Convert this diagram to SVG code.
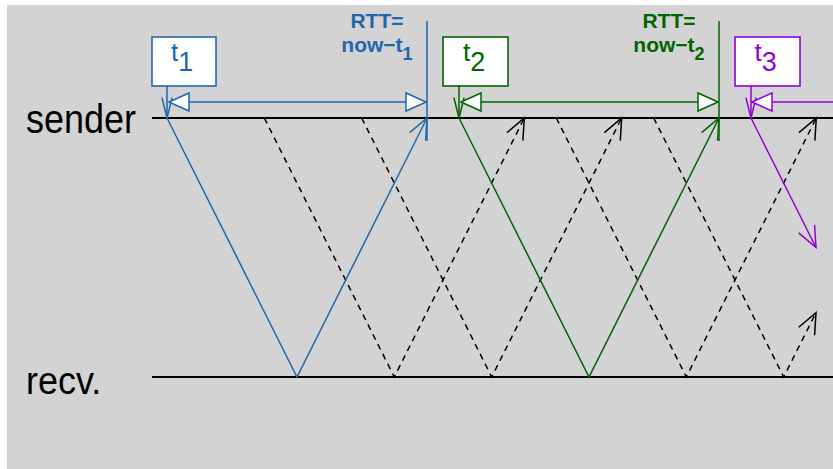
<svg xmlns="http://www.w3.org/2000/svg" width="833" height="469" viewBox="0 0 833 469">
<style>
  .ax { stroke: #000; stroke-width: 2; fill: none; }
  .lbl { font-family: "Liberation Sans", Arial, sans-serif; fill: #000; }
  .box { fill: #fff; stroke-width: 1.6; }
  .blue { stroke: #2166ac; }
  .green { stroke: #006400; }
  .purple { stroke: #9400d3; }
  .ln { fill: none; stroke-width: 1.5; }
  .dash { fill: none; stroke: #000; stroke-width: 1.5; stroke-dasharray: 6 5; }
  .tb { font-family: "Liberation Sans", Arial, sans-serif; font-size: 26px; }
  .rtt { font-family: "Liberation Sans", Arial, sans-serif; font-size: 21px; font-weight: bold; text-anchor: middle; }
</style>
<defs>
  <marker id="hB" markerUnits="userSpaceOnUse" viewBox="-25 -12 30 24" markerWidth="30" markerHeight="24" refX="0" refY="0" orient="auto" overflow="visible"><path d="M-20.9,-8.9 L0,0 L-20.9,8.9" fill="none" stroke="#2166ac" stroke-width="1.5"/></marker>
  <marker id="hG" markerUnits="userSpaceOnUse" viewBox="-25 -12 30 24" markerWidth="30" markerHeight="24" refX="0" refY="0" orient="auto" overflow="visible"><path d="M-20.9,-8.9 L0,0 L-20.9,8.9" fill="none" stroke="#006400" stroke-width="1.5"/></marker>
  <marker id="hP" markerUnits="userSpaceOnUse" viewBox="-25 -12 30 24" markerWidth="30" markerHeight="24" refX="0" refY="0" orient="auto" overflow="visible"><path d="M-20.9,-8.9 L0,0 L-20.9,8.9" fill="none" stroke="#9400d3" stroke-width="1.5"/></marker>
  <marker id="hK" markerUnits="userSpaceOnUse" viewBox="-25 -12 30 24" markerWidth="30" markerHeight="24" refX="0" refY="0" orient="auto" overflow="visible"><path d="M-20.9,-8.9 L0,0 L-20.9,8.9" fill="none" stroke="#000" stroke-width="1.5" stroke-dasharray="none"/></marker>
  <marker id="nB" markerUnits="userSpaceOnUse" viewBox="-25 -12 30 24" markerWidth="30" markerHeight="24" refX="0" refY="0" orient="auto" overflow="visible"><path d="M-20.4,-5.1 L0,0 L-20.4,5.1" fill="none" stroke="#2166ac" stroke-width="1.5"/></marker>
  <marker id="nG" markerUnits="userSpaceOnUse" viewBox="-25 -12 30 24" markerWidth="30" markerHeight="24" refX="0" refY="0" orient="auto" overflow="visible"><path d="M-20.4,-5.1 L0,0 L-20.4,5.1" fill="none" stroke="#006400" stroke-width="1.5"/></marker>
  <marker id="nP" markerUnits="userSpaceOnUse" viewBox="-25 -12 30 24" markerWidth="30" markerHeight="24" refX="0" refY="0" orient="auto" overflow="visible"><path d="M-20.4,-5.1 L0,0 L-20.4,5.1" fill="none" stroke="#9400d3" stroke-width="1.5"/></marker>
  <marker id="tB" markerUnits="userSpaceOnUse" viewBox="-25 -12 30 24" markerWidth="30" markerHeight="24" refX="0" refY="0" orient="auto-start-reverse" overflow="visible"><path d="M0,0 L-20,-9 L-20,9 Z" fill="#fff" stroke="#2166ac" stroke-width="1.5"/></marker>
  <marker id="tG" markerUnits="userSpaceOnUse" viewBox="-25 -12 30 24" markerWidth="30" markerHeight="24" refX="0" refY="0" orient="auto-start-reverse" overflow="visible"><path d="M0,0 L-20,-9 L-20,9 Z" fill="#fff" stroke="#006400" stroke-width="1.5"/></marker>
  <marker id="tP" markerUnits="userSpaceOnUse" viewBox="-25 -12 30 24" markerWidth="30" markerHeight="24" refX="0" refY="0" orient="auto-start-reverse" overflow="visible"><path d="M0,0 L-20,-9 L-20,9 Z" fill="#fff" stroke="#9400d3" stroke-width="1.5"/></marker>
</defs>

<rect x="0" y="0" width="833" height="469" fill="#fff"/>
<rect x="7" y="5" width="826" height="464" fill="#d3d3d3"/>

<g id="sender">
  <line class="ax" x1="152" y1="118" x2="833" y2="118"/>
  <text class="lbl" font-size="36" transform="translate(26,133) scale(1,1.12)">sender</text>
</g>
<g id="recv">
  <line class="ax" x1="152" y1="377" x2="833" y2="377"/>
  <text class="lbl" font-size="36" transform="translate(26,394) scale(1,1.08)">recv.</text>
</g>

<g id="connectors">
  <polyline class="dash" points="264.3,118 394.3,377 524.3,118" marker-end="url(#hK)"/>
  <polyline class="dash" points="361.7,118 491.7,377 621.7,118" marker-end="url(#hK)"/>
  <polyline class="dash" points="556.3,118 686.3,377 816.3,118" marker-end="url(#hK)"/>
  <polyline class="dash" points="653.7,118 783.7,377 816,312.6" marker-end="url(#hK)"/>
  <polyline class="ln blue" points="167,118 297,377 427,118" marker-end="url(#hB)"/>
  <polyline class="ln green" points="459,118 589,377 719,118" marker-end="url(#hG)"/>
  <polyline class="ln purple" points="751,118 816,247.5" marker-end="url(#hP)"/>
  <line class="ln blue" x1="167" y1="86" x2="167" y2="118" marker-end="url(#nB)"/>
  <line class="ln green" x1="459" y1="86" x2="459" y2="118" marker-end="url(#nG)"/>
  <line class="ln purple" x1="751" y1="86" x2="751" y2="118" marker-end="url(#nP)"/>
  <line class="ln blue" x1="169" y1="102" x2="426" y2="102" marker-start="url(#tB)" marker-end="url(#tB)"/>
  <line class="ln green" x1="461" y1="102" x2="718" y2="102" marker-start="url(#tG)" marker-end="url(#tG)"/>
  <line class="ln purple" x1="833" y1="102" x2="752" y2="102" marker-end="url(#tP)"/>
  <line class="ln blue" x1="427" y1="21" x2="427" y2="141"/>
  <line class="ln green" x1="719" y1="21" x2="719" y2="141"/>
</g>

<g id="t1">
  <rect class="box blue" x="152" y="37" width="64" height="49"/>
  <text class="tb" x="171" y="60.5" fill="#2166ac">t<tspan dy="10" font-size="27">1</tspan></text>
</g>
<g id="t2">
  <rect class="box green" x="443" y="37" width="65" height="49"/>
  <text class="tb" x="463" y="60.5" fill="#006400">t<tspan dy="10" font-size="27">2</tspan></text>
</g>
<g id="t3">
  <rect class="box purple" x="735" y="37" width="65" height="49"/>
  <text class="tb" x="754.5" y="60.5" fill="#9400d3">t<tspan dy="10" font-size="27">3</tspan></text>
</g>

<g id="rtt1">
  <text class="rtt" x="377" y="27.5" fill="#2166ac">RTT=</text>
  <text class="rtt" x="377" y="51.5" fill="#2166ac">now−t<tspan dy="8.5" font-size="18">1</tspan></text>
</g>
<g id="rtt2">
  <text class="rtt" x="669" y="27.5" fill="#006400">RTT=</text>
  <text class="rtt" x="669" y="51.5" fill="#006400">now−t<tspan dy="8.5" font-size="18">2</tspan></text>
</g>
</svg>
